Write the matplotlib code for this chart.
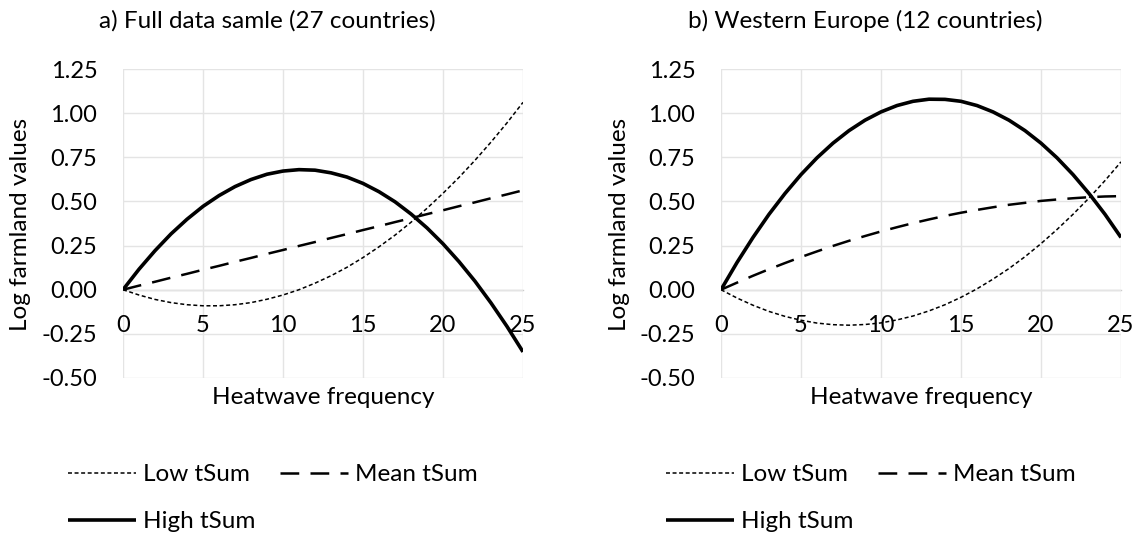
import matplotlib
matplotlib.use('Agg')
import matplotlib.pyplot as plt
from matplotlib.ticker import FormatStrFormatter

plt.rcParams['font.family'] = ['Lato', 'DejaVu Sans']
plt.rcParams['axes.unicode_minus'] = False

# heatwave frequency (x)
freq = list(range(26))

# panel a) full data sample
a_low = [0.000, -0.030, -0.055, -0.073, -0.085, -0.091, -0.091, -0.085, -0.073, -0.054,
         -0.030, 0.000, 0.037, 0.079, 0.127, 0.182, 0.243, 0.309, 0.382, 0.461,
         0.546, 0.636, 0.733, 0.836, 0.945, 1.061]
a_mean = [0.000, 0.023, 0.045, 0.068, 0.090, 0.113, 0.135, 0.158, 0.180, 0.203,
          0.225, 0.248, 0.270, 0.293, 0.315, 0.338, 0.360, 0.383, 0.405, 0.428,
          0.450, 0.473, 0.495, 0.518, 0.540, 0.563]
a_high = [0.000, 0.116, 0.221, 0.316, 0.399, 0.472, 0.533, 0.584, 0.624, 0.654,
          0.672, 0.680, 0.677, 0.662, 0.638, 0.602, 0.555, 0.498, 0.429, 0.350,
          0.260, 0.159, 0.048, -0.075, -0.208, -0.352]

# panel b) western europe
b_low = [0.000, -0.047, -0.088, -0.123, -0.151, -0.173, -0.189, -0.198, -0.201, -0.197,
         -0.188, -0.171, -0.149, -0.120, -0.085, -0.043, 0.005, 0.060, 0.120, 0.187,
         0.261, 0.341, 0.427, 0.519, 0.618, 0.724]
b_mean = [0.000, 0.040, 0.079, 0.116, 0.151, 0.185, 0.217, 0.248, 0.277, 0.304,
          0.330, 0.354, 0.377, 0.398, 0.418, 0.436, 0.452, 0.467, 0.481, 0.492,
          0.503, 0.511, 0.518, 0.524, 0.528, 0.530]
b_high = [0.000, 0.154, 0.296, 0.427, 0.545, 0.652, 0.747, 0.830, 0.901, 0.960,
          1.007, 1.043, 1.067, 1.079, 1.078, 1.067, 1.043, 1.007, 0.960, 0.901,
          0.830, 0.747, 0.652, 0.545, 0.427, 0.296]

titles = ['a) Full data samle (27 countries)', 'b) Western Europe (12 countries)']
series_names = ['Low tSum', 'Mean tSum', 'High tSum']

W, H = 1140, 538
FS = 17.5
fig = plt.figure(figsize=(W / 100, H / 100), dpi=100)


def px(x, y):
    return x / W, 1 - y / H


panels = [
    dict(left=123, title_x=267, ylab_x=21, leg_x=68, data=(a_low, a_mean, a_high)),
    dict(left=721, title_x=865, ylab_x=619, leg_x=666, data=(b_low, b_mean, b_high)),
]

for i, p in enumerate(panels):
    ax = fig.add_axes([p['left'] / W, 1 - 378 / H, 400 / W, 309 / H])
    low, mean, high = p['data']
    l1, = ax.plot(freq, low, color='black', lw=1.1, dashes=(2.6, 1.7), label=series_names[0])
    l2, = ax.plot(freq, mean, color='black', lw=1.8, dashes=(7.5, 4.5), label=series_names[1])
    l3, = ax.plot(freq, high, color='black', lw=2.6, solid_capstyle='butt', label=series_names[2])

    ax.set_xlim(0, 25)
    ax.set_ylim(-0.5, 1.25)
    ax.set_xticks(range(0, 26, 5))
    ax.set_yticks([-0.5 + 0.25 * k for k in range(8)])
    ax.yaxis.set_major_formatter(FormatStrFormatter('%.2f'))
    ax.grid(True, color='#e4e4e4', lw=1.0)
    ax.set_axisbelow(True)
    for s in ['top', 'right', 'left']:
        ax.spines[s].set_visible(False)
    ax.spines['bottom'].set_position(('data', 0))
    ax.spines['bottom'].set_color('#cccccc')
    ax.spines['bottom'].set_linewidth(1.0)
    ax.spines['bottom'].set_zorder(0.5)
    ax.tick_params(axis='x', length=0, pad=18, labelsize=FS - 0.5, colors='black')
    ax.tick_params(axis='y', length=0, pad=18.5, labelsize=FS - 0.5, colors='black')

    fig.text(*px(p['title_x'], 28), titles[i], ha='center', va='baseline', fontsize=FS)
    fig.text(*px(p['ylab_x'], 224), 'Log farmland values', ha='center', va='center',
             rotation=90, fontsize=FS)
    fig.text(*px(p['left'] + 200, 404), 'Heatwave frequency', ha='center', va='baseline',
             fontsize=FS)

    ax.legend([l1, l3, l2], [series_names[0], series_names[2], series_names[1]],
              ncol=2, loc='upper left', bbox_to_anchor=px(p['leg_x'], 464),
              bbox_transform=fig.transFigure, frameon=False, fontsize=FS,
              handlelength=2.8, handletextpad=0.3, columnspacing=1.0,
              labelspacing=1.08, borderpad=0, borderaxespad=0)

fig.savefig('out.png', dpi=100)
